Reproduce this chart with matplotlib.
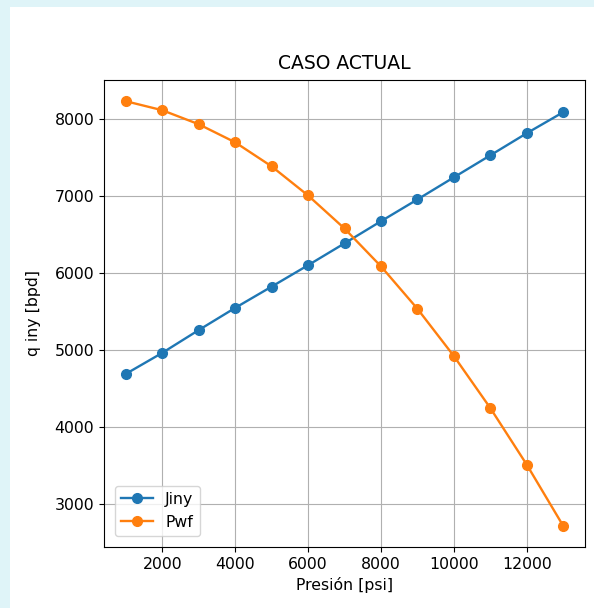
import matplotlib.pyplot as plt
from matplotlib.patches import Rectangle

presion = [1000, 2000, 3000, 4000, 5000, 6000, 7000, 8000, 9000, 10000, 11000, 12000, 13000]
jiny = [4693, 4966, 5262, 5550, 5826, 6104, 6388, 6675, 6958, 7245, 7531, 7818, 8091]
pwf = [8234, 8117, 7935, 7700, 7388, 7010, 6581, 6090, 5539, 4925, 4250, 3515, 2720]

fig = plt.figure(figsize=(5.94, 6.08), dpi=100, facecolor='#dff4f8')
# white panel behind the plot
fig.add_artist(Rectangle((10 / 594, 0), 1, 1 - 7 / 608, transform=fig.transFigure,
                         facecolor='white', edgecolor='none', zorder=-10))

ax = fig.add_axes([104 / 594, 61 / 608, 481 / 594, 467 / 608])
ax.plot(presion, jiny, marker='o', lw=1.7, ms=7, label='Jiny')
ax.plot(presion, pwf, marker='o', lw=1.7, ms=7, label='Pwf')

ax.set_title('CASO ACTUAL', fontsize=13.5, pad=8)
ax.set_xlabel('Presión [psi]', fontsize=11.3)
ax.set_ylabel('q iny [bpd]', fontsize=11.3, labelpad=10)
ax.tick_params(labelsize=11.3)
ax.grid(True)
ax.legend(loc='lower left', fontsize=11.3, borderaxespad=0.7)

fig.savefig('out.png', dpi=100, facecolor=fig.get_facecolor())
